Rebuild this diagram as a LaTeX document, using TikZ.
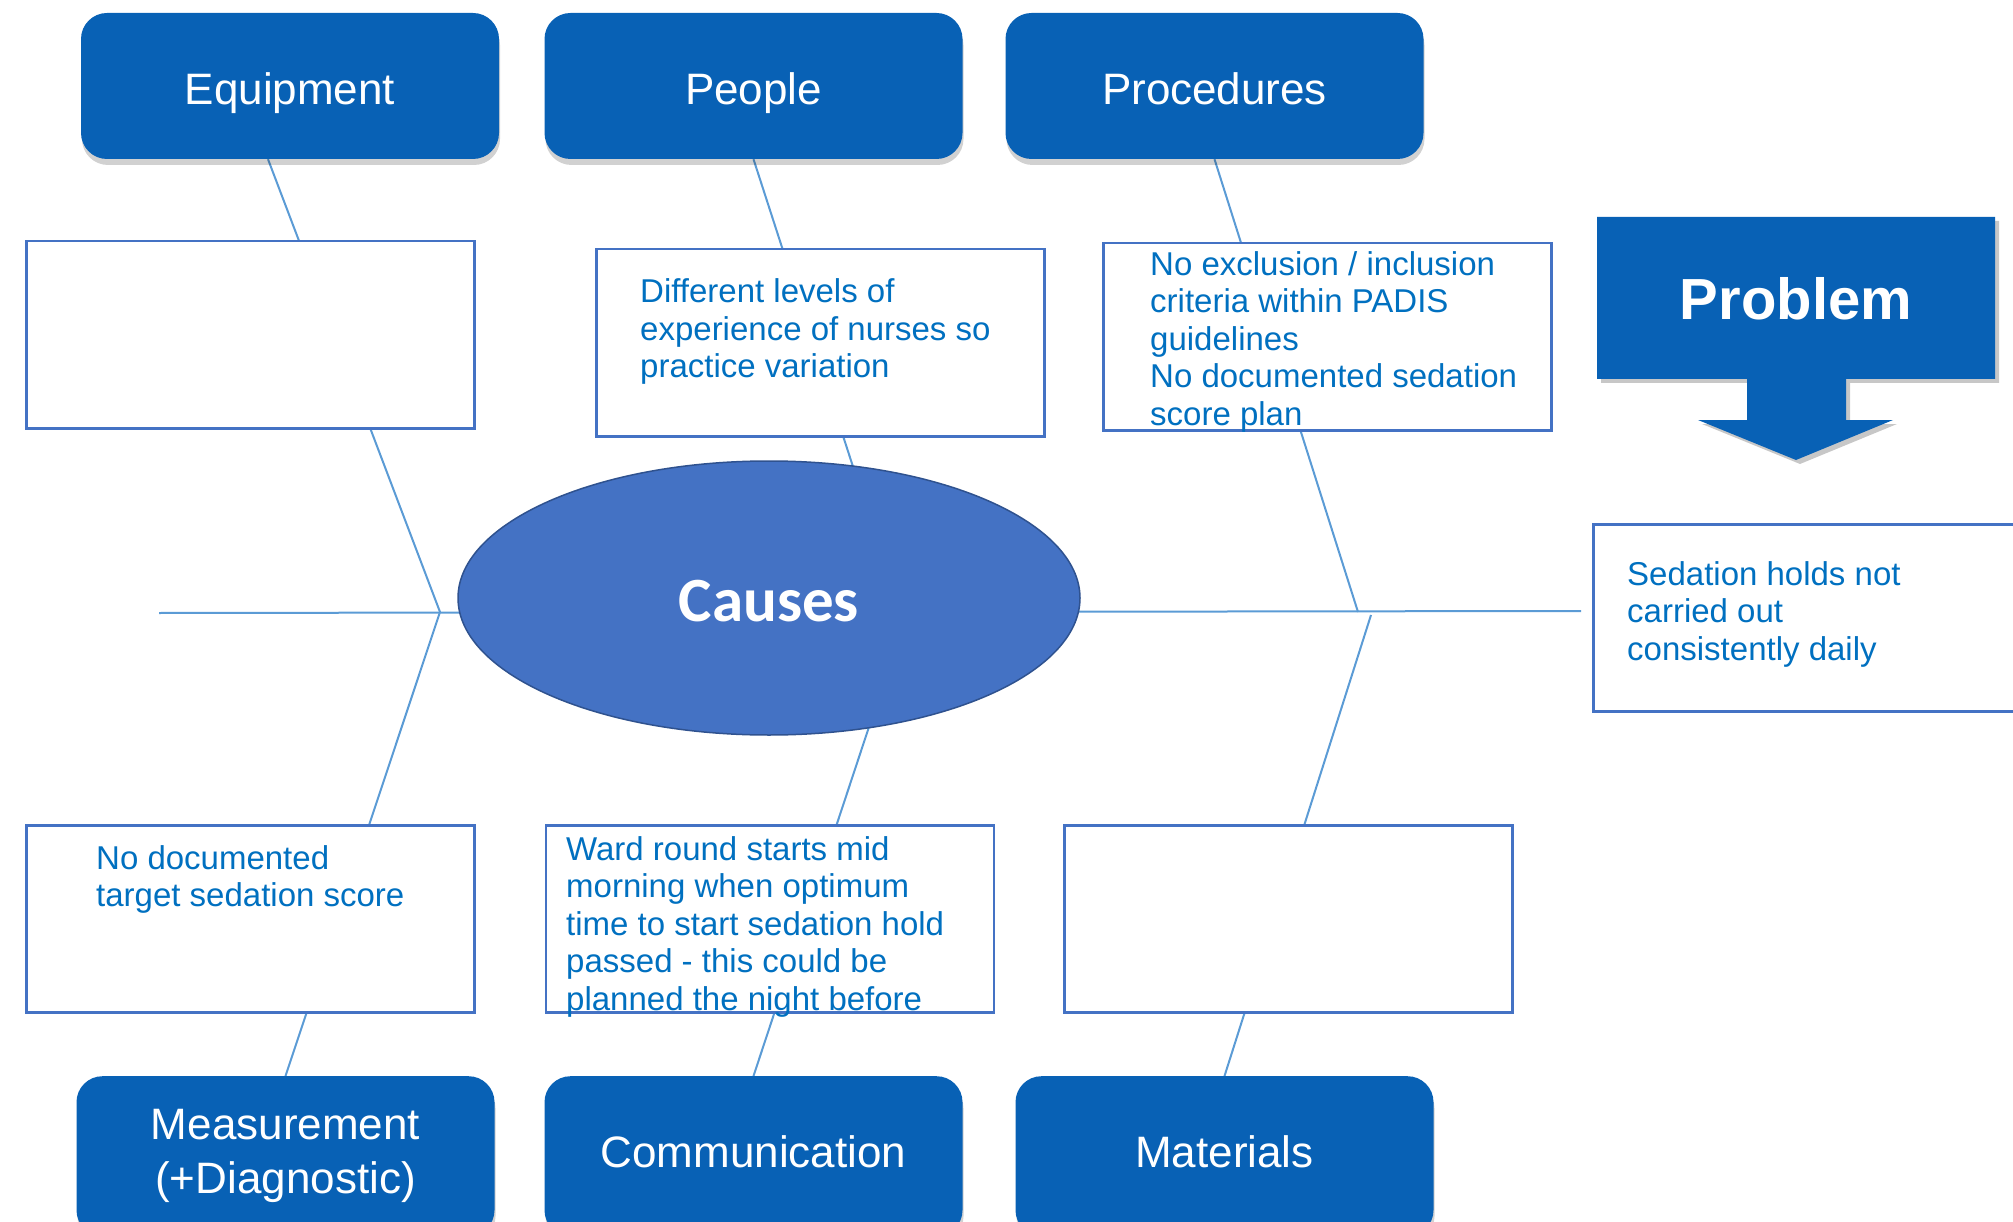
\documentclass[tikz,border=0pt]{standalone}
\usepackage{fontspec}
\setmainfont{Liberation Sans}
\newfontfamily\calibri{Carlito}
\usepackage{tikz}
\usetikzlibrary{shapes,positioning,calc,shadows,backgrounds}
\definecolor{catblue}{RGB}{8,97,181}
\definecolor{headblue}{RGB}{68,114,196}
\definecolor{headedge}{RGB}{47,82,143}
\definecolor{boxedge}{RGB}{68,114,196}
\definecolor{notetext}{RGB}{0,112,192}
\definecolor{bonecol}{RGB}{91,155,213}

\begin{document}
\begin{tikzpicture}[x=1pt, y=-1pt,
    category/.style={rectangle, rounded corners=26pt, fill=catblue, text=white, align=center,
        minimum width=418pt, minimum height=146pt, font=\fontsize{44}{54}\selectfont,
        drop shadow={shadow xshift=1pt, shadow yshift=-6pt, opacity=0.18, fill=black}},
    notebox/.style={rectangle, draw=boxedge, line width=2.5pt, fill=white, anchor=north west},
    notetxt/.style={anchor=base west, align=left, inner sep=0pt, text=notetext,
        font=\fontsize{33}{37.5}\selectfont},
    bone/.style={draw=bonecol, line width=2pt}]
    \useasboundingbox (0,0) rectangle (2013,1222);

    % Category boxes (top)
    \foreach \nm/\x/\txt in {equip/290/Equipment, people/753.5/People, proc/1214.5/Procedures} {
        \node[category, text height=37pt, text depth=0pt] (\nm) at (\x,86) {\txt};
    }
    % Category boxes (bottom)
    \node[category, anchor=north, minimum height=160pt] (meas) at (285.5,1076) {Measurement\\(+Diagnostic)};
    \foreach \nm/\x/\txt in {comm/753.5/Communication, mat/1224.5/Materials} {
        \node[category, anchor=north, minimum height=160pt, text height=23pt, text depth=0pt] (\nm) at (\x,1076) {\txt};
    }

    % Cause boxes
    \foreach \nm/\x/\y in {equipnote/25/240, peoplenote/595/248, procnote/1102/242,
                           measnote/25/824, commnote/544.5/824, matnote/1063/824} {
        \node[notebox, minimum width=448pt, minimum height=187pt] (\nm) at (\x,\y) {};
    }
    \node[notebox, minimum width=450pt, minimum height=187pt] (effectnote) at (1592,523) {};

    % Texts (placed at the baseline of the last line)
    \node[notetxt] (peopletxt) at (640,377.5) {Different levels of\\experience of nurses so\\practice variation};
    \node[notetxt] (proctxt) at (1150,425) {No exclusion / inclusion\\criteria within PADIS\\guidelines\\No documented sedation\\score plan};
    \node[notetxt] (effecttxt) at (1627,660) {Sedation holds not\\carried out\\consistently daily};
    \node[notetxt] (meastxt) at (96,906.5) {No documented\\target sedation score};
    \node[notetxt] (commtxt) at (566,1010) {Ward round starts mid\\morning when optimum\\time to start sedation hold\\passed - this could be\\planned the night before};

    % Head
    \node[ellipse, fill=headblue, draw=headedge, line width=1.5pt, minimum width=622pt, minimum height=274pt,
        text=white, text height=46pt, text depth=0pt,
        font=\calibri\bfseries\fontsize{63}{70}\selectfont] (causes) at (769,598) {Causes};

    % Problem
    \fill[catblue, drop shadow={shadow xshift=4pt, shadow yshift=-4pt, opacity=0.22, fill=black}]
        (1597,217) -- (1995,217) -- (1995,379) -- (1846,379) -- (1846,420) -- (1893,420) -- (1796,460)
        -- (1698,420) -- (1747,420) -- (1747,379) -- (1597,379) -- cycle;
    \node[text=white, font=\bfseries\fontsize{58}{64}\selectfont] (prob) at (1796,299) {Problem};

    % Spine and bones
    \coordinate (tail) at (159,613);
    \coordinate (spinehead) at (1581,611);
    \coordinate (jl) at (440,612);
    \coordinate (jm) at (900,612);
    \coordinate (jmb) at (907,612);
    \coordinate (jr) at (1358,612);
    \coordinate (jrb) at (1371,615);
    \begin{pgfonlayer}{background}
        \draw[bone] (tail) -- (spinehead);
        \draw[bone] ([xshift=-22pt]equip.south) -- (jl) -- (meas.north);
        \draw[bone] (people.south) -- (jm);
        \draw[bone] (jmb) -- (comm.north);
        \draw[bone] (proc.south) -- (jr);
        \draw[bone] (jrb) -- (mat.north);
    \end{pgfonlayer}
\end{tikzpicture}
\end{document}
